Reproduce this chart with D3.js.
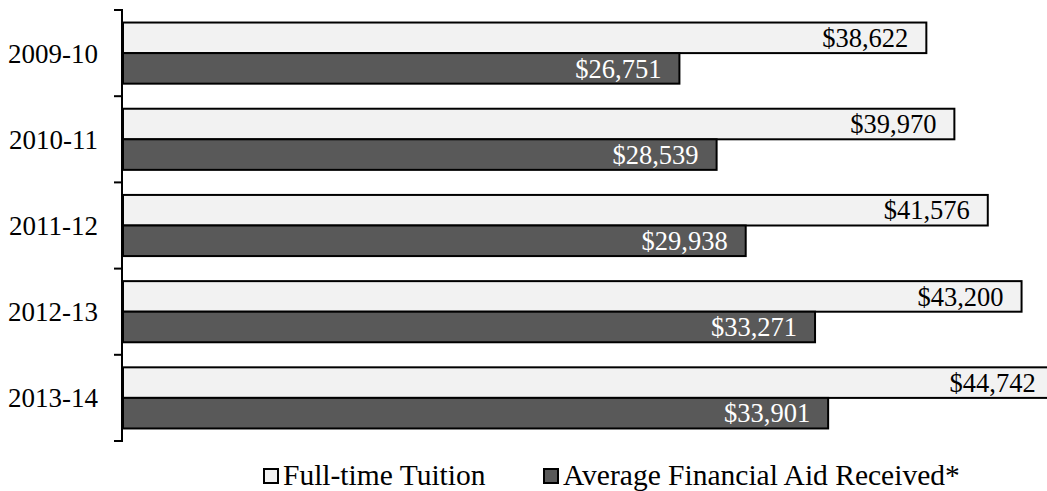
<!DOCTYPE html>
<html>
<head>
<meta charset="utf-8">
<script src="https://cdn.jsdelivr.net/npm/d3@7"></script>
<style>
  body { margin: 0; background: #fff; }
  text { font-family: "Liberation Serif", "Times New Roman", serif; }
</style>
</head>
<body>
<svg id="chart" width="1047" height="491"></svg>
<script>
// data
const years = ["2009-10", "2010-11", "2011-12", "2012-13", "2013-14"]
const tuition = [38622, 39970, 41576, 43200, 44742]
const aid = [26751, 28539, 29938, 33271, 33901]
const seriesNames = ["Full-time Tuition", "Average Financial Aid Received*"]
const seriesColors = ["#f2f2f2", "#595959"]
const labelColors = ["#000", "#fff"]

let svg = d3.select("#chart")

let x = d3.scaleLinear().domain([0, 45000]).range([123, 1059])
let y = d3.scaleBand().domain(years).range([10, 441])
let sub = d3.scaleBand().domain([0, 1]).range([0, y.bandwidth()]).paddingInner(0).paddingOuter(0.41)

let fmt = d => "$" + d3.format(",")(d)

//bars
let rows = years.map((yr, i) => ({ yr, vals: [tuition[i], aid[i]] }))
let g = svg.selectAll("g.row").data(rows).enter().append("g").attr("class", "row")
  .attr("transform", d => `translate(0,${y(d.yr)})`)

g.selectAll("rect").data(d => d.vals).enter().append("rect")
  .attr("x", x(0)).attr("y", (d, i) => sub(i))
  .attr("width", d => x(d) - x(0)).attr("height", sub.bandwidth())
  .attr("fill", (d, i) => seriesColors[i]).attr("stroke", "#000").attr("stroke-width", 2)

g.selectAll("text").data(d => d.vals).enter().append("text")
  .attr("x", d => x(d) - 18).attr("y", (d, i) => sub(i) + sub.bandwidth() / 2)
  .attr("dy", "0.35em").attr("text-anchor", "end")
  .attr("font-size", 26.5).attr("fill", (d, i) => labelColors[i])
  .text(fmt)

//axis line + ticks at band edges
let edges = years.map(d => y(d)).concat([y.range()[1]])
svg.append("line").attr("x1", 122).attr("x2", 122).attr("y1", edges[0]).attr("y2", edges[edges.length - 1])
  .attr("stroke", "#000").attr("stroke-width", 2)
svg.selectAll("line.tick").data(edges).enter().append("line").attr("class", "tick")
  .attr("x1", 114).attr("x2", 123).attr("y1", d => d).attr("y2", d => d)
  .attr("stroke", "#000").attr("stroke-width", 2)
svg.selectAll("text.cat").data(years).enter().append("text").attr("class", "cat")
  .attr("x", 98).attr("y", d => y(d) + y.bandwidth() / 2).attr("dy", "0.35em")
  .attr("text-anchor", "end").attr("font-size", 27).text(d => d)

//legend
let legX = [264, 544]
let leg = svg.selectAll("g.leg").data(seriesNames).enter().append("g").attr("class", "leg")
  .attr("transform", (d, i) => `translate(${legX[i]},469)`)
leg.append("rect").attr("width", 14).attr("height", 14)
  .attr("fill", (d, i) => seriesColors[i]).attr("stroke", "#000").attr("stroke-width", 2)
leg.append("text").attr("x", 19).attr("y", 16).attr("font-size", 29.5).text(d => d)
</script>
</body>
</html>
